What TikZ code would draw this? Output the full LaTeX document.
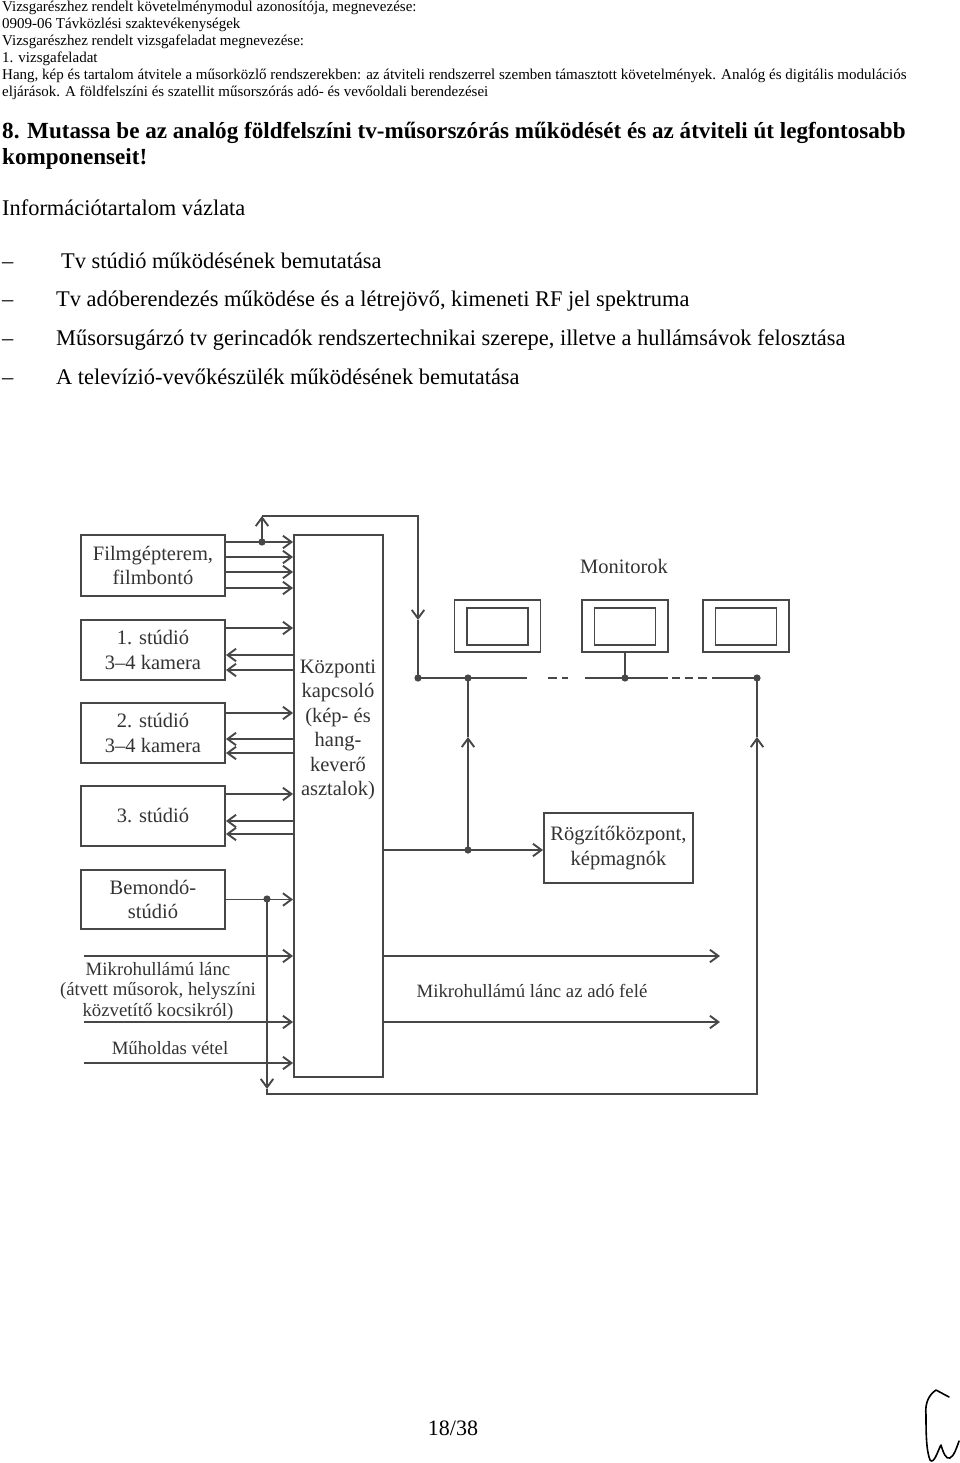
\documentclass[tikz,border=0pt]{standalone}
\usepackage{fontspec}
\setmainfont{Liberation Serif}
\usetikzlibrary{arrows.meta}
\definecolor{linegray}{gray}{0.28}
\definecolor{txtgray}{gray}{0.2}
\newcommand{\hdrfont}{\fontsize{15}{17}\selectfont}
\newcommand{\qfont}{\fontsize{23.1}{26}\selectfont\bfseries}
\newcommand{\bodyfont}{\fontsize{22.4}{26}\selectfont}
\newcommand{\diagfont}{\fontsize{20.5}{24.5}\selectfont}
\newcommand{\notefont}{\fontsize{18.8}{20.5}\selectfont}

\begin{document}
\begin{tikzpicture}[x=1pt,y=-1pt,
    wire/.style={draw=linegray, line width=1.9pt},
    flow/.style={wire, -{Straight Barb[length=8.5pt,width=12.5pt]}},
    blk/.style={draw=linegray, line width=1.9pt, minimum width=144pt,
        align=center, text=txtgray, font=\diagfont, inner sep=0pt},
    lbl/.style={text=txtgray, font=\diagfont, inner sep=0pt, align=center},
    note/.style={lbl, font=\notefont},
    screen/.style={draw=linegray, line width=1.9pt, minimum width=86pt, minimum height=52pt},
    screenin/.style={draw=linegray, line width=1.9pt, minimum width=61pt, minimum height=37pt},
    hdr/.style={anchor=base west, font=\hdrfont, inner sep=0pt},
    item/.style={anchor=base west, font=\bodyfont, inner sep=0pt}]

    \fill[white] (0,0) rectangle (960,1463);
    \useasboundingbox (0,0) rectangle (960,1463);

    % Page header
    \node[hdr] (h1) at (2,12)   {Vizsgarészhez rendelt követelménymodul azonosítója, megnevezése:};
    \node[hdr] (h2) at (2,28.5) {0909-06 Távközlési szaktevékenységek};
    \node[hdr] (h3) at (2,46)   {Vizsgarészhez rendelt vizsgafeladat megnevezése:};
    \node[hdr] (h4) at (2,63)   {1. vizsgafeladat};
    \node[hdr] (h5) at (2,79.5) {Hang, kép és tartalom átvitele a műsorközlő rendszerekben: az átviteli rendszerrel szemben támasztott követelmények. Analóg és digitális modulációs};
    \node[hdr] (h6) at (2,97)   {eljárások. A földfelszíni és szatellit műsorszórás adó- és vevőoldali berendezései};

    % Question
    \node[anchor=base west, font=\qfont, inner sep=0pt] (q1) at (2,139) {8. Mutassa be az analóg földfelszíni tv-műsorszórás működését és az átviteli út legfontosabb};
    \node[anchor=base west, font=\qfont, inner sep=0pt] (q2) at (2,165) {komponenseit!};

    % Outline
    \node[item] (outl) at (2,216) {Információtartalom vázlata};
    \node[item] (d1) at (2,268) {–};
    \node[item] (d2) at (2,306) {–};
    \node[item] (d3) at (2,345) {–};
    \node[item] (d4) at (2,384) {–};
    \node[item] (i1) at (61,268) {Tv stúdió működésének bemutatása};
    \node[item] (i2) at (56,306) {Tv adóberendezés működése és a létrejövő, kimeneti RF jel spektruma};
    \node[item] (i3) at (56,345) {Műsorsugárzó tv gerincadók rendszertechnikai szerepe, illetve a hullámsávok felosztása};
    \node[item] (i4) at (56,384) {A televízió-vevőkészülék működésének bemutatása};

    % Sources
    \node[blk, minimum height=61pt] (film)    at (153,565.5) {Filmgépterem,\\filmbontó};
    \node[blk, minimum height=60pt] (stud1)   at (153,650)   {1. stúdió\\3–4 kamera};
    \node[blk, minimum height=60pt] (stud2)   at (153,733)   {2. stúdió\\3–4 kamera};
    \node[blk, minimum height=60pt] (stud3)   at (153,816)   {3. stúdió};
    \node[blk, minimum height=59pt] (bemondo) at (153,899.5) {Bemondó-\\stúdió};

    % Central switch
    \node[draw=linegray, line width=1.9pt, minimum width=89pt, minimum height=542pt] (kozp) at (338.5,806) {};
    \node[lbl] (kozptxt) at (338,730) {Központi\\kapcsoló\\(kép- és\\hang-\\keverő\\asztalok)};

    % Recorder
    \node[blk, minimum width=149pt, minimum height=70pt] (rog) at (618.5,848) {Rögzítőközpont,\\képmagnók};

    % Monitors
    \foreach \i/\x in {1/497.5, 2/625, 3/746} {
        \node[screen]   (mon\i) at (\x,626)   {};
        \node[screenin] (scr\i) at (\x,626.5) {};
    }
    \node[lbl] (monlbl) at (624,566) {Monitorok};

    % Branching coordinates
    \coordinate (jfilm) at (262,542);
    \coordinate (c1)    at (262,516);
    \coordinate (c2)    at (418,516);
    \coordinate (c2m)   at (418,620);
    \coordinate (bus1)  at (418,678);
    \coordinate (bus2)  at (468,678);
    \coordinate (bus3)  at (625,678);
    \coordinate (bus4)  at (757,678);
    \coordinate (jrec)  at (468,850);
    \coordinate (jrecm) at (468,737);
    \coordinate (jbem)  at (267,899);
    \coordinate (c3m)   at (267,1089);
    \coordinate (c3)    at (267,1094);
    \coordinate (c4)    at (757,1094);
    \coordinate (c4m)   at (757,737);

    % Microwave and satellite ends
    \coordinate (mw1) at (84,956);
    \coordinate (mw2) at (84,1022);
    \coordinate (sat) at (84,1063);
    \coordinate (out1) at (720,956);
    \coordinate (out2) at (720,1022);

    % Lines into and out of the switch
    \foreach \dy in {23.5,8.5,-6.5,-22.5}
        \draw[flow] ([yshift=\dy]film.east) -- ([yshift=\dy]film.east -| kozp.west);
    \foreach \s/\a/\b/\c in {stud1/22/-5/-20, stud2/20/-6/-20, stud3/22/-5/-18} {
        \draw[flow] ([yshift=\a]\s.east) -- ([yshift=\a]\s.east -| kozp.west);
        \draw[flow] ([yshift=\b]\s.east -| kozp.west) -- ([yshift=\b]\s.east);
        \draw[flow] ([yshift=\c]\s.east -| kozp.west) -- ([yshift=\c]\s.east);
    }
    \draw[flow] (bemondo.east) -- (bemondo.east -| kozp.west);
    \draw[flow] (mw1) -- (mw1 -| kozp.west);
    \draw[flow] (mw2) -- (mw2 -| kozp.west);
    \draw[flow] (sat) -- (sat -| kozp.west);
    \draw[flow] (out1 -| kozp.east) -- (out1);
    \draw[flow] (out2 -| kozp.east) -- (out2);

    % Recorder feed
    \draw[wire] (kozp.east |- jrec) -- (jrec);
    \draw[flow] (jrec) -- (jrec -| rog.west);
    \draw[flow] (jrec) -- (jrecm);
    \draw[wire] (jrecm) -- (bus2);

    % Monitor loops
    \draw[flow] (jfilm) -- (c1);
    \draw[flow] (c1) -- (c2) -- (c2m);
    \draw[wire] (c2m) -- (bus1);
    \draw[flow] (jbem) -- (c3m);
    \draw[flow] (c3m) -- (c3) -- (c4) -- (c4m);
    \draw[wire] (c4m) -- (bus4);

    % Monitor bus
    \draw[wire, dash pattern=on 109pt off 21pt on 9pt off 5pt on 6pt off 17pt on 83pt off 4pt on 8pt off 5pt on 8pt off 5pt on 9pt off 5pt on 45pt off 100pt] (bus1) -- (bus4);
    \draw[wire] (mon2.south) -- (bus3);
    \foreach \p in {jfilm,bus1,bus2,bus3,bus4,jrec,jbem}
        \fill[linegray] (\p) circle (3.6);

    % Annotations
    \node[note] (mwlbl) at (158,991) {Mikrohullámú lánc\\(átvett műsorok, helyszíni\\közvetítő kocsikról)};
    \node[note] (satlbl) at (170,1048) {Műholdas vétel};
    \node[note] (outlbl) at (532,991) {Mikrohullámú lánc az adó felé};

    % Page number and initials
    \node[font=\fontsize{22}{24}\selectfont, inner sep=0pt] (pg) at (453,1428) {18/38};
    \draw[line width=1.6pt, line cap=round, line join=round] (949,1397) -- (936,1390)
        .. controls (927,1396) and (925,1406) .. (926,1415)
        .. controls (926,1430) and (926,1450) .. (930,1460)
        .. controls (934,1465) and (938,1450) .. (941,1445)
        .. controls (943,1452) and (946,1460) .. (950,1458)
        .. controls (954,1456) and (957,1447) .. (959,1441);
\end{tikzpicture}
\end{document}
